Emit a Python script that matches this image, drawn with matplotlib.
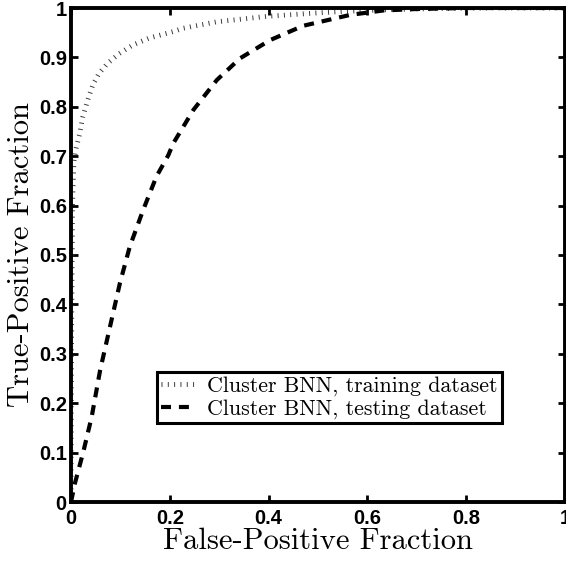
import numpy as np
import matplotlib.pyplot as plt

# ROC curves
train_fpf = [0.0, 0.001, 0.003, 0.006, 0.010, 0.017, 0.024, 0.034, 0.044, 0.057,
             0.074, 0.098, 0.125, 0.158, 0.206, 0.227, 0.295, 0.396, 0.497,
             0.550, 0.650, 0.750, 0.850, 1.0]
train_tpf = [0.0, 0.30, 0.60, 0.690, 0.715, 0.743, 0.780, 0.814, 0.844, 0.868,
             0.888, 0.908, 0.925, 0.939, 0.952, 0.959, 0.972, 0.983, 0.990,
             0.993, 0.997, 0.999, 1.0, 1.0]

test_fpf = [0.0, 0.008, 0.025, 0.042, 0.059, 0.079, 0.099, 0.119, 0.146, 0.173,
            0.197, 0.207, 0.248, 0.295, 0.342, 0.403, 0.470, 0.565, 0.632,
            0.700, 0.800, 0.900, 1.0]
test_tpf = [0.0, 0.038, 0.102, 0.173, 0.267, 0.355, 0.443, 0.517, 0.591, 0.659,
            0.702, 0.726, 0.794, 0.854, 0.898, 0.935, 0.964, 0.986, 0.995,
            0.998, 1.0, 1.0, 1.0]

x_ticks = [0, 0.2, 0.4, 0.6, 0.8, 1]
x_tick_labels = ['0', '0.2', '0.4', '0.6', '0.8', '1']
y_ticks = [0, 0.1, 0.2, 0.3, 0.4, 0.5, 0.6, 0.7, 0.8, 0.9, 1]
y_tick_labels = ['0', '0.1', '0.2', '0.3', '0.4', '0.5', '0.6', '0.7', '0.8', '0.9', '1']

fig = plt.figure(figsize=(5.66, 5.61), dpi=100)
ax = fig.add_axes([71 / 566, 59 / 561, 494 / 566, 494 / 561])

# training curve: thick line with very short dashes -> small strokes across the path
ax.plot(train_fpf, train_tpf, color='#3a3a3a', linewidth=3.5, dash_capstyle='butt',
        linestyle=(0, (0.2, 1.1)), label='Cluster BNN, training dataset')
ax.plot(test_fpf, test_tpf, color='black', linewidth=3.0, dash_capstyle='butt',
        linestyle=(0, (2.4, 1.9)), label='Cluster BNN, testing dataset')

ax.set_xlim(0, 1)
ax.set_ylim(0, 1)
ax.set_xticks(x_ticks)
ax.set_xticklabels(x_tick_labels)
ax.set_yticks(y_ticks)
ax.set_yticklabels(y_tick_labels)

for lbl in ax.get_xticklabels() + ax.get_yticklabels():
    lbl.set_fontfamily('Liberation Sans')
    lbl.set_fontweight('bold')
    lbl.set_fontsize(14.5)

ax.tick_params(direction='in', length=5, width=2, top=True, right=True)
ax.tick_params(axis='x', pad=5)
ax.tick_params(axis='y', pad=3)
for sp in ax.spines.values():
    sp.set_linewidth(2.8)

ax.set_xlabel('False-Positive Fraction', fontname='cmr10', fontsize=22, labelpad=0)
ax.set_ylabel('True-Positive Fraction', fontname='cmr10', fontsize=22, labelpad=3)

leg = ax.legend(loc='upper left', bbox_to_anchor=(0.174, 0.263), borderaxespad=0,
                prop={'family': 'cmr10', 'size': 15.8}, fancybox=False,
                framealpha=1, edgecolor='black', handlelength=1.6,
                handletextpad=0.5, labelspacing=0.12, borderpad=0.2)
leg.get_frame().set_linewidth(2.2)

fig.savefig('out.png', dpi=100)
